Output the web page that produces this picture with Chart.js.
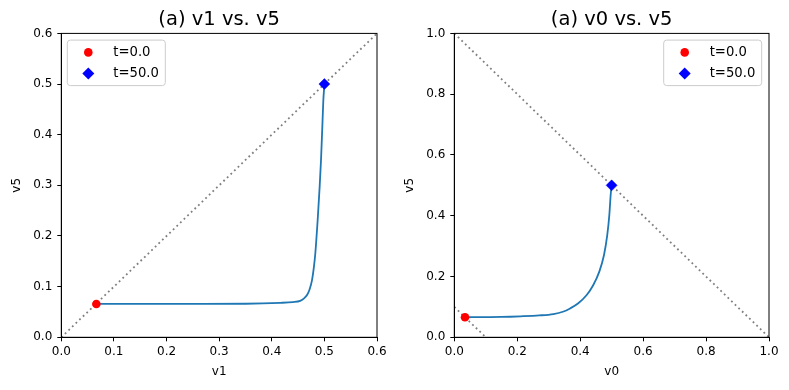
<!DOCTYPE html>
<html><head><meta charset="utf-8">
<script src="https://cdn.jsdelivr.net/npm/chart.js@4.4.1/dist/chart.umd.min.js"></script>
<style>
html,body{margin:0;padding:0;background:#fff;}
#wrap{position:relative;width:789px;height:390px;overflow:hidden;}
.box{position:absolute;top:0;height:390px;}
</style></head><body>
<div id="wrap">
<div class="box" style="left:0;width:395px"><canvas id="c1" width="395" height="390"></canvas></div>
<div class="box" style="left:395px;width:394px"><canvas id="c2" width="394" height="390"></canvas></div>
</div>
<script>
// ---------- data ----------
const leftTitle = '(a) v1 vs. v5';
const leftXLabel = 'v1';
const leftYLabel = 'v5';
const leftCurveX = [0.0666, 0.15, 0.25, 0.35, 0.416, 0.44, 0.454, 0.462, 0.467, 0.472, 0.4765, 0.48, 0.4828, 0.4872, 0.491, 0.4936, 0.4961, 0.498, 0.4995, 0.5];
const leftCurveY = [0.0658, 0.0658, 0.0659, 0.0662, 0.068, 0.0695, 0.072, 0.0775, 0.0835, 0.095, 0.113, 0.138, 0.166, 0.231, 0.297, 0.350, 0.416, 0.468, 0.492, 0.5];
const leftStart = {x: 0.0666, y: 0.0658};
const leftEnd = {x: 0.5, y: 0.5};
const leftRefX = [0, 0.6];
const leftRefY = [0, 0.6];
const leftTicks = [0, 0.1, 0.2, 0.3, 0.4, 0.5, 0.6];
const leftTickLabels = ['0.0', '0.1', '0.2', '0.3', '0.4', '0.5', '0.6'];

const rightTitle = '(a) v0 vs. v5';
const rightXLabel = 'v0';
const rightYLabel = 'v5';
const rightCurveX = [0.034, 0.1, 0.15, 0.21, 0.27, 0.315, 0.345, 0.368, 0.394, 0.4207, 0.4417, 0.4608, 0.4757, 0.486, 0.4926, 0.497, 0.5];
const rightCurveY = [0.066, 0.0665, 0.067, 0.069, 0.072, 0.0765, 0.084, 0.095, 0.112, 0.139, 0.172, 0.216, 0.271, 0.336, 0.402, 0.47, 0.5];
const rightStart = {x: 0.034, y: 0.066};
const rightEnd = {x: 0.5, y: 0.5};
const rightRefX = [0, 1];
const rightRefY = [1, 0];
const rightRef2X = [0, 0.1];
const rightRef2Y = [0.1, 0];
const rightTicks = [0, 0.2, 0.4, 0.6, 0.8, 1.0];
const rightTickLabels = ['0.0', '0.2', '0.4', '0.6', '0.8', '1.0'];

const legendLabels = ['t=0.0', 't=50.0'];

// ---------- helpers ----------
Chart.defaults.font.family = "'DejaVu Sans', sans-serif";
Chart.defaults.color = '#000';

const zip = (xs, ys) => xs.map((x, i) => ({x: x, y: ys[i]}));

const framePlugin = {
  id: 'frame',
  afterDraw(chart) {
    const {ctx, chartArea: a} = chart;
    ctx.save();
    ctx.strokeStyle = '#000';
    ctx.lineWidth = 1;
    ctx.strokeRect(a.left, a.top, a.right - a.left, a.bottom - a.top);
    ctx.restore();
  }
};

const legendPlugin = {
  id: 'innerLegend',
  afterDraw(chart, args, opts) {
    const {ctx, chartArea: a} = chart;
    const w = 98, h = 45.5;
    const x0 = opts.side === 'left' ? a.left + 6 : a.right - 7.3 - w;
    const y0 = a.top + 6.7;
    ctx.save();
    ctx.beginPath();
    ctx.roundRect(x0, y0, w, h, 3);
    ctx.fillStyle = 'rgba(255,255,255,0.8)';
    ctx.fill();
    ctx.strokeStyle = '#cccccc';
    ctx.lineWidth = 1;
    ctx.stroke();
    const items = chart.data.datasets.filter(d => d.inLegend);
    items.forEach((d, i) => {
      const cx = x0 + 21, cy = y0 + 12.3 + i * 21;
      ctx.fillStyle = d.backgroundColor;
      ctx.beginPath();
      if (d.pointStyle === 'circle') {
        ctx.arc(cx, cy, d.pointRadius, 0, Math.PI * 2);
      } else {
        const r = d.pointRadius + 0.5;
        ctx.moveTo(cx - r, cy); ctx.lineTo(cx, cy - r); ctx.lineTo(cx + r, cy); ctx.lineTo(cx, cy + r); ctx.closePath();
      }
      ctx.fill();
      ctx.fillStyle = '#000';
      ctx.font = "13.2px 'DejaVu Sans', sans-serif";
      ctx.textBaseline = 'middle';
      ctx.textAlign = 'left';
      ctx.fillText(d.label, x0 + 46, cy + 0.5);
    });
    ctx.restore();
  }
};

function makeChart(id, cfg) {
  const datasets = [
    {label: legendLabels[0], inLegend: true, data: [cfg.start], pointStyle: 'circle', pointRadius: 4.3,
     backgroundColor: '#ff0000', borderColor: '#ff0000', borderWidth: 0, showLine: false, order: 0},
    {label: legendLabels[1], inLegend: true, data: [cfg.end], pointStyle: 'rectRot', pointRadius: 5.5,
     backgroundColor: '#0000ff', borderColor: '#0000ff', borderWidth: 0.5, showLine: false, order: 0},
    {label: 'traj', data: zip(cfg.curveX, cfg.curveY), showLine: true, pointRadius: 0, borderColor: '#1f77b4',
     borderWidth: 1.8, cubicInterpolationMode: 'monotone', order: 1},
  ];
  cfg.refs.forEach(r => datasets.push({label: 'ref', data: zip(r[0], r[1]), showLine: true, pointRadius: 0,
    borderColor: 'rgba(0,0,0,0.5)', borderWidth: 1.8, borderDash: [1.8, 3.2], borderCapStyle: 'butt', order: 2}));

  const axisCommon = (ticks, labels, min, max) => ({
    type: 'linear', min: min, max: max,
    afterBuildTicks: s => { s.ticks = ticks.map(v => ({value: v})); },
    ticks: {font: {size: 12}, color: '#000', callback: (v, i) => labels[i]},
    grid: {drawOnChartArea: false, drawTicks: true, tickLength: 4, color: '#000', lineWidth: 1},
    border: {display: true, color: '#000', width: 1},
  });
  const x = axisCommon(cfg.ticks, cfg.tickLabels, cfg.min, cfg.max);
  x.ticks.padding = 3; x.ticks.maxRotation = 0;
  x.title = {display: true, text: cfg.xLabel, font: {size: 12}, color: '#000', padding: {top: 0, bottom: 11}};
  x.afterFit = s => { s.height = 52.7; };
  const y = axisCommon(cfg.ticks, cfg.tickLabels, cfg.min, cfg.max);
  y.ticks.padding = 5;
  y.title = {display: true, text: cfg.yLabel, font: {size: 12}, color: '#000', padding: {top: cfg.yTitlePad, bottom: 0}};
  y.afterFit = s => { s.width = cfg.yWidth; };

  return new Chart(document.getElementById(id), {
    type: 'scatter',
    data: {datasets: datasets},
    options: {
      responsive: false, animation: false, events: [],
      layout: {padding: {left: 0, right: cfg.padRight, top: 0, bottom: 0}},
      scales: {x: x, y: y},
      plugins: {
        legend: {display: false}, tooltip: {enabled: false},
        title: {display: true, text: cfg.title, fullSize: false, color: '#000',
                font: {size: 19.5, weight: 'normal'}, padding: {top: 8.3, bottom: 1.7}},
        innerLegend: {side: cfg.legendSide}
      }
    },
    plugins: [framePlugin, legendPlugin]
  });
}

makeChart('c1', {
  title: leftTitle, xLabel: leftXLabel, yLabel: leftYLabel,
  curveX: leftCurveX, curveY: leftCurveY, start: leftStart, end: leftEnd,
  refs: [[leftRefX, leftRefY]], ticks: leftTicks, tickLabels: leftTickLabels,
  min: 0, max: 0.6, yWidth: 61.3, padRight: 18, yTitlePad: 9.5, legendSide: 'left'
});
makeChart('c2', {
  title: rightTitle, xLabel: rightXLabel, yLabel: rightYLabel,
  curveX: rightCurveX, curveY: rightCurveY, start: rightStart, end: rightEnd,
  refs: [[rightRefX, rightRefY], [rightRef2X, rightRef2Y]], ticks: rightTicks, tickLabels: rightTickLabels,
  min: 0, max: 1, yWidth: 59.3, padRight: 20, yTitlePad: 7.8, legendSide: 'right'
});
</script>
</body></html>
